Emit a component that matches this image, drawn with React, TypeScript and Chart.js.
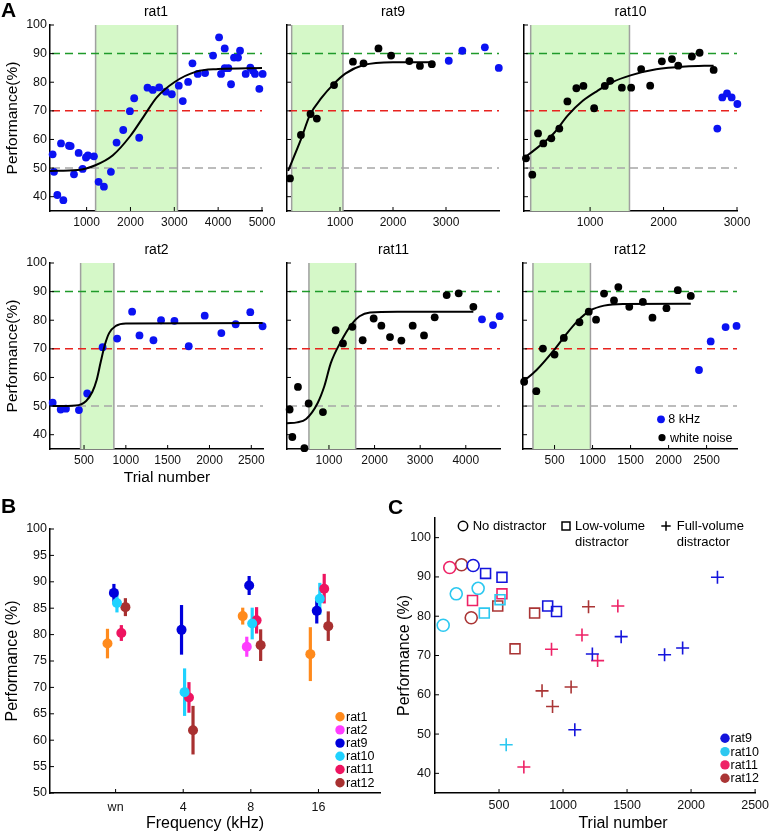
import React, { useEffect, useRef } from 'react';
import { Chart, registerables } from 'chart.js';

Chart.register(...registerables);

const FONT = '"Liberation Sans", Arial, Helvetica, sans-serif';
const BLUE = '#0b12f2';
const BLACK = '#000000';

// ================= Panel A data =================
const A_Y_TICKS = [40, 50, 60, 70, 80, 90, 100];
const A_REF_LEVELS = [50, 70, 90];
const A_REF_COLORS = ['#a6a6a6', '#e8231f', '#1f9a2a'];

// rat1 (8 kHz only)
const rat1BlueX = [225, 256, 332, 416, 469, 598, 636, 712, 818, 909, 985, 1030, 1167, 1273, 1395, 1554, 1683, 1835, 1987, 2085, 2199, 2389, 2510, 2655, 2806, 2943, 3102, 3193, 3315, 3414, 3535, 3702, 3884, 4021, 4066, 4150, 4150, 4233, 4294, 4362, 4453, 4499, 4628, 4734, 4795, 4840, 4939, 5015];
const rat1BlueY = [54.8, 48.7, 40.6, 58.6, 38.8, 57.8, 57.7, 47.8, 55.3, 49.7, 53.7, 54.4, 54.1, 45.2, 43.5, 48.7, 58.9, 63.3, 69.9, 74.4, 60.6, 78.1, 77.3, 78.2, 76.7, 75.8, 78.8, 73.4, 80.1, 86.6, 82.9, 83.2, 89.3, 95.7, 82.9, 91.8, 84.9, 84.9, 79.3, 88.6, 88.6, 91.0, 82.9, 85.1, 84.0, 82.9, 77.7, 82.9];
const rat1FitX = [165, 800, 1200, 1600, 2000, 2300, 2600, 3000, 3500, 4000, 5000];
const rat1FitY = [49, 49.3, 51, 54.5, 61.3, 68, 74.7, 80, 83.7, 84.6, 85];
const rat1Band = [1205, 3072];
const rat1XTicks = [1000, 2000, 3000, 4000, 5000];

// rat9
const rat9BlackX = [56, 263, 444, 563, 888, 1244, 1444, 1726, 1964, 2308, 2508, 2733];
const rat9BlackY = [46.4, 61.6, 68.9, 67.3, 79.0, 87.2, 86.6, 91.8, 89.3, 87.4, 85.7, 86.3];
const rat9BlueX = [3052, 3308, 3733, 3996];
const rat9BlueY = [87.5, 91.0, 92.2, 85.0];
const rat9FitX = [20, 263, 431, 650, 888, 1100, 1444, 2000, 2733];
const rat9FitY = [49, 60, 68.5, 74.5, 79.5, 83, 86, 87, 87];
const rat9Band = [88, 1056];
const rat9XTicks = [1000, 2000, 3000];

// rat10
const rat10BlackX = [127, 213, 291, 363, 472, 581, 691, 813, 909, 1055, 1200, 1273, 1432, 1559, 1695, 1818, 1977, 2114, 2200, 2386, 2491, 2682];
const rat10BlackY = [53.4, 47.7, 62.1, 58.6, 60.4, 63.8, 73.3, 77.9, 78.7, 70.9, 78.7, 80.5, 78.1, 78.1, 84.6, 78.8, 87.3, 88.1, 85.8, 89.0, 90.3, 84.3];
const rat10BlueX = [2732, 2800, 2864, 2927, 3005];
const rat10BlueY = [63.8, 74.7, 76.1, 74.7, 72.4];
const rat10FitX = [100, 300, 500, 700, 900, 1100, 1300, 1550, 1900, 2300, 2682];
const rat10FitY = [53.5, 57.5, 62, 68.5, 73.5, 77, 80, 82.4, 84.5, 85.5, 85.8];
const rat10Band = [191, 1536];
const rat10XTicks = [1000, 2000, 3000];

// rat2 (8 kHz only)
const rat2BlueX = [125, 221, 284, 439, 538, 722, 896, 1075, 1163, 1330, 1421, 1581, 1752, 1943, 2142, 2313, 2488, 2635];
const rat2BlueY = [51.2, 48.8, 49.1, 48.6, 54.4, 70.6, 73.6, 83.0, 74.7, 73.0, 80.0, 79.8, 70.9, 81.6, 75.5, 78.6, 82.8, 77.9];
const rat2FitX = [125, 400, 525, 600, 650, 700, 750, 800, 880, 1000, 2635];
const rat2FitY = [50, 50.2, 51.8, 55, 59, 65.5, 71.5, 75.5, 78, 78.9, 79];
const rat2Band = [459, 857];
const rat2XTicks = [500, 1000, 1500, 2000, 2500];

// rat11
const rat11BlackX = [138, 197, 320, 461, 555, 868, 1147, 1307, 1513, 1739, 1980, 2149, 2338, 2588, 2836, 3084, 3318, 3581, 3844, 4166];
const rat11BlackY = [48.8, 39.2, 56.7, 35.3, 50.9, 47.9, 76.5, 71.9, 77.7, 73.0, 80.6, 78.1, 74.1, 72.9, 78.1, 74.7, 81.0, 88.8, 89.4, 84.7];
const rat11BlueX = [4355, 4597, 4743];
const rat11BlueY = [80.3, 78.3, 81.4];
const rat11FitX = [80, 300, 500, 750, 900, 1040, 1260, 1490, 1670, 1900, 2500, 4166];
const rat11FitY = [44, 44.3, 45.5, 51, 57, 65, 72.5, 78.5, 81.4, 82.7, 83, 83];
const rat11Band = [561, 1586];
const rat11XTicks = [1000, 2000, 3000, 4000];

// rat12
const rat12BlackX = [100, 260, 347, 500, 622, 828, 950, 1046, 1151, 1282, 1339, 1483, 1662, 1788, 1972, 2121, 2292];
const rat12BlackY = [58.5, 55.2, 70.1, 68.0, 73.8, 79.3, 83.0, 80.2, 89.3, 86.9, 91.6, 84.7, 86.4, 80.9, 84.2, 90.5, 88.5];
const rat12BlueX = [2400, 2554, 2750, 2894];
const rat12BlueY = [62.6, 72.6, 77.6, 78.0];
const rat12FitX = [85, 260, 500, 650, 802, 977, 1151, 1400, 2292];
const rat12FitY = [58.5, 62.5, 69.8, 75, 79.7, 83.5, 85.1, 85.7, 85.8];
const rat12Band = [216, 972];
const rat12XTicks = [500, 1000, 1500, 2000, 2500];

// ================= Panel B data =================
const FREQ_LABELS = ['wn', '4', '8', '16'];
const B_Y_TICKS = [50, 55, 60, 65, 70, 75, 80, 85, 90, 95, 100];
const B_RATS = ['rat1', 'rat2', 'rat9', 'rat10', 'rat11', 'rat12'];
const B_COLORS = ['#ff8a1c', '#ff3cff', '#0000dc', '#1ed2ff', '#ee1460', '#a83030'];
const B_OFFSETS = [-0.12, -0.06, -0.025, 0.02, 0.085, 0.145];
const rat1Means = [78.3, null, 83.5, 76.3];
const rat1Errs = [2.8, null, 1.6, 5.1];
const rat2Means = [null, null, 77.7, null];
const rat2Errs = [null, null, 1.9, null];
const rat9Means = [87.9, 80.9, 89.3, 84.5];
const rat9Errs = [1.7, 4.7, 1.8, 2.4];
const rat10Means = [86.0, 69.1, 82.1, 86.8];
const rat10Errs = [1.8, 4.5, 3.0, 3.0];
const rat11Means = [80.3, 68.1, 82.7, 88.7];
const rat11Errs = [1.5, 2.9, 2.5, 2.8];
const rat12Means = [85.2, 61.9, 78.0, 81.6];
const rat12Errs = [1.7, 4.6, 3.0, 2.8];
const B_MEANS = [rat1Means, rat2Means, rat9Means, rat10Means, rat11Means, rat12Means];
const B_ERRS = [rat1Errs, rat2Errs, rat9Errs, rat10Errs, rat11Errs, rat12Errs];

// ================= Panel C data =================
const C_X_TICKS = [500, 1000, 1500, 2000, 2500];
const C_Y_TICKS = [40, 50, 60, 70, 80, 90, 100];
const C_RATS = ['rat9', 'rat10', 'rat11', 'rat12'];
const C_COLORS = ['#1414dc', '#2cc8f0', '#ee2266', '#aa3535'];
const rat9NoX = [298];
const rat9NoY = [92.9];
const rat9LowX = [395, 523, 880, 949];
const rat9LowY = [90.9, 89.9, 82.6, 81.2];
const rat9FullX = [2206, 1454, 1229, 1793, 1934, 1092];
const rat9FullY = [89.9, 74.8, 70.4, 70.2, 71.9, 51.1];
const rat10NoX = [64, 166, 337];
const rat10NoY = [77.7, 85.7, 87.1];
const rat10LowX = [385, 508];
const rat10LowY = [80.8, 84.2];
const rat10FullX = [556];
const rat10FullY = [47.3];
const rat11NoX = [115];
const rat11NoY = [92.4];
const rat11LowX = [293, 523];
const rat11LowY = [84.0, 85.7];
const rat11FullX = [1428, 1148, 910, 1270, 694];
const rat11FullY = [82.6, 75.2, 71.6, 68.7, 41.6];
const rat12NoX = [207, 283];
const rat12NoY = [93.1, 79.6];
const rat12LowX = [490, 778, 625];
const rat12LowY = [82.6, 80.8, 71.7];
const rat12FullX = [1199, 1063, 836, 918];
const rat12FullY = [82.4, 62.0, 61.0, 57.0];
const C_NO = [[rat9NoX, rat9NoY], [rat10NoX, rat10NoY], [rat11NoX, rat11NoY], [rat12NoX, rat12NoY]];
const C_LOW = [[rat9LowX, rat9LowY], [rat10LowX, rat10LowY], [rat11LowX, rat11LowY], [rat12LowX, rat12LowY]];
const C_FULL = [[rat9FullX, rat9FullY], [rat10FullX, rat10FullY], [rat11FullX, rat11FullY], [rat12FullX, rat12FullY]];

// ================= helpers =================
type Box = { x: number; y: number; w: number; h: number };
type Area = { l: number; t: number; r: number; b: number };

const zip = (xs: number[], ys: number[]) => xs.map((x, i) => ({ x, y: ys[i] }));
const fixedTicks = (vals: number[]) => (scale: any) => {
  scale.ticks = vals.map((v) => ({ value: v }));
};
const TITLE_H = 14 * 1.2 + 8;

const inwardTicks = {
  id: 'inwardTicks',
  afterDraw(chart: any) {
    const { ctx, chartArea: a } = chart;
    const x = chart.scales.x;
    const y = chart.scales.y;
    ctx.save();
    ctx.strokeStyle = '#000';
    ctx.lineWidth = 1;
    ctx.beginPath();
    x.ticks.forEach((t: any) => {
      const px = x.getPixelForValue(t.value);
      ctx.moveTo(px, a.bottom);
      ctx.lineTo(px, a.bottom - 4);
    });
    y.ticks.forEach((t: any) => {
      const py = y.getPixelForValue(t.value);
      ctx.moveTo(a.left, py);
      ctx.lineTo(a.left + 4, py);
    });
    ctx.stroke();
    ctx.restore();
  },
};

function makeBands(band: number[]) {
  return {
    id: 'bands',
    beforeDatasetsDraw(chart: any) {
      const { ctx, chartArea: a } = chart;
      const x = chart.scales.x;
      const y = chart.scales.y;
      ctx.save();
      const x1 = x.getPixelForValue(band[0]);
      const x2 = x.getPixelForValue(band[1]);
      ctx.fillStyle = '#d5f8c8';
      ctx.fillRect(x1, a.top, x2 - x1, a.bottom - a.top);
      ctx.strokeStyle = '#a0a0a0';
      ctx.lineWidth = 1.5;
      ctx.beginPath();
      ctx.moveTo(x1, a.top);
      ctx.lineTo(x1, a.bottom);
      ctx.moveTo(x2, a.top);
      ctx.lineTo(x2, a.bottom);
      ctx.stroke();
      A_REF_LEVELS.forEach((lv, i) => {
        const py = y.getPixelForValue(lv);
        ctx.strokeStyle = A_REF_COLORS[i];
        ctx.lineWidth = 1.5;
        ctx.setLineDash([8, 5]);
        ctx.beginPath();
        ctx.moveTo(a.left + 2, py);
        ctx.lineTo(a.right, py);
        ctx.stroke();
      });
      ctx.restore();
    },
  };
}

function drawMarker(ctx: any, kind: string, cx: number, cy: number, r: number, color: string, lw: number) {
  ctx.save();
  ctx.strokeStyle = color;
  ctx.fillStyle = color;
  ctx.lineWidth = lw;
  ctx.beginPath();
  if (kind === 'dot') {
    ctx.arc(cx, cy, r, 0, Math.PI * 2);
    ctx.fill();
  } else if (kind === 'circle') {
    ctx.arc(cx, cy, r, 0, Math.PI * 2);
    ctx.stroke();
  } else if (kind === 'rect') {
    ctx.rect(cx - r, cy - r, 2 * r, 2 * r);
    ctx.stroke();
  } else if (kind === 'cross') {
    ctx.moveTo(cx - r, cy);
    ctx.lineTo(cx + r, cy);
    ctx.moveTo(cx, cy - r);
    ctx.lineTo(cx, cy + r);
    ctx.stroke();
  }
  ctx.restore();
}

type LegendItem = { kind?: string; color?: string; r?: number; mx?: number; y: number; tx: number; text: string };
function makeLegend(items: LegendItem[], fontSize: number) {
  return {
    id: 'customLegend',
    afterDraw(chart: any) {
      const { ctx, chartArea: a } = chart;
      ctx.save();
      items.forEach((it) => {
        if (it.kind) drawMarker(ctx, it.kind, a.left + (it.mx as number), a.top + it.y, it.r as number, it.color as string, 1.5);
        ctx.fillStyle = '#000';
        ctx.font = `${fontSize}px ${FONT}`;
        ctx.textAlign = 'left';
        ctx.textBaseline = 'middle';
        ctx.fillText(it.text, a.left + it.tx, a.top + it.y + 0.5);
      });
      ctx.restore();
    },
  };
}

function makeTexts(items: { text: string; x: number; y: number; size: number }[]) {
  return {
    id: 'freeText',
    afterDraw(chart: any) {
      const ctx = chart.ctx;
      ctx.save();
      items.forEach((t) => {
        ctx.font = `${t.size}px ${FONT}`;
        ctx.fillStyle = '#000';
        ctx.textAlign = 'center';
        ctx.textBaseline = 'middle';
        ctx.fillText(t.text, t.x, t.y);
      });
      ctx.restore();
    },
  };
}

function axis(o: {
  min: number; max: number; ticks: number[]; horizontal: boolean; size: number; show: boolean;
  pad: number; fontSize: number; cb?: (v: any) => string; title?: any;
}) {
  return {
    type: 'linear',
    min: o.min,
    max: o.max,
    afterBuildTicks: fixedTicks(o.ticks),
    ticks: {
      display: o.show,
      autoSkip: false,
      maxRotation: 0,
      minRotation: 0,
      padding: o.pad,
      color: '#111',
      font: { family: FONT, size: o.fontSize },
      callback: o.cb || ((v: any) => String(v)),
    },
    grid: { display: false, drawTicks: false },
    border: { display: true, color: '#000', width: 1.5 },
    title: o.title || { display: false },
    afterFit: (s: any) => {
      if (o.horizontal) s.height = o.size;
      else s.width = o.size;
    },
  };
}

const baseOptions = (padding: any) => ({
  responsive: false,
  animation: false,
  devicePixelRatio: 1,
  events: [],
  layout: { padding, autoPadding: false },
});

// ================= Panel A =================
type APanel = {
  title: string; box: Box; area: Area; xMin: number; xMax: number; xTicks: number[]; band: number[];
  black?: number[][]; blue?: number[][]; fit: number[][]; yLabels?: boolean; legend?: boolean;
  texts?: { text: string; x: number; y: number; size: number }[];
};

const A_PANELS: APanel[] = [
  { title: 'rat1', box: { x: 0, y: 0, w: 280, h: 232 }, area: { l: 50, t: 25, r: 262, b: 211 }, xMin: 165, xMax: 5000, xTicks: rat1XTicks, band: rat1Band, blue: [rat1BlueX, rat1BlueY], fit: [rat1FitX, rat1FitY], yLabels: true },
  { title: 'rat9', box: { x: 275, y: 0, w: 245, h: 232 }, area: { l: 287, t: 25, r: 499, b: 211 }, xMin: 0, xMax: 4000, xTicks: rat9XTicks, band: rat9Band, black: [rat9BlackX, rat9BlackY], blue: [rat9BlueX, rat9BlueY], fit: [rat9FitX, rat9FitY] },
  { title: 'rat10', box: { x: 512, y: 0, w: 262, h: 232 }, area: { l: 524, t: 25, r: 737, b: 211 }, xMin: 100, xMax: 3000, xTicks: rat10XTicks, band: rat10Band, black: [rat10BlackX, rat10BlackY], blue: [rat10BlueX, rat10BlueY], fit: [rat10FitX, rat10FitY] },
  { title: 'rat2', box: { x: 0, y: 238, w: 280, h: 252 }, area: { l: 50, t: 263, r: 263, b: 449 }, xMin: 93, xMax: 2640, xTicks: rat2XTicks, band: rat2Band, blue: [rat2BlueX, rat2BlueY], fit: [rat2FitX, rat2FitY], yLabels: true, texts: [{ text: 'Trial number', x: 167, y: 240, size: 15.5 }] },
  { title: 'rat11', box: { x: 275, y: 238, w: 245, h: 232 }, area: { l: 287, t: 263, r: 500, b: 449 }, xMin: 80, xMax: 4750, xTicks: rat11XTicks, band: rat11Band, black: [rat11BlackX, rat11BlackY], blue: [rat11BlueX, rat11BlueY], fit: [rat11FitX, rat11FitY] },
  { title: 'rat12', box: { x: 511, y: 238, w: 263, h: 232 }, area: { l: 523, t: 263, r: 737, b: 449 }, xMin: 85, xMax: 2900, xTicks: rat12XTicks, band: rat12Band, black: [rat12BlackX, rat12BlackY], blue: [rat12BlueX, rat12BlueY], fit: [rat12FitX, rat12FitY], legend: true },
];

function makeA(p: APanel) {
  const yw = p.area.l - p.box.x;
  const xh = p.box.y + p.box.h - p.area.b;
  const padding = { left: 0, top: p.area.t - p.box.y - TITLE_H, right: p.box.x + p.box.w - p.area.r, bottom: 0 };
  const datasets: any[] = [
    { data: zip(p.fit[0], p.fit[1]), showLine: true, borderColor: '#000', borderWidth: 2, pointRadius: 0, cubicInterpolationMode: 'monotone', clip: false, order: 0 },
  ];
  if (p.black) datasets.push({ data: zip(p.black[0], p.black[1]), pointRadius: 3.9, backgroundColor: BLACK, borderWidth: 0, clip: false, order: 1 });
  if (p.blue) datasets.push({ data: zip(p.blue[0], p.blue[1]), pointRadius: 3.9, backgroundColor: BLUE, borderWidth: 0, clip: false, order: 1 });
  const plugins: any[] = [makeBands(p.band), inwardTicks];
  if (p.legend) {
    plugins.push(
      makeLegend(
        [
          { kind: 'dot', color: BLUE, r: 3.9, mx: 138, y: 156.3, tx: 145.3, text: '8 kHz' },
          { kind: 'dot', color: BLACK, r: 3.6, mx: 139, y: 174.7, tx: 147, text: 'white noise' },
        ],
        12.5,
      ),
    );
  }
  if (p.texts) plugins.push(makeTexts(p.texts));
  return {
    type: 'scatter',
    data: { datasets },
    options: {
      ...baseOptions(padding),
      plugins: {
        legend: { display: false },
        tooltip: { enabled: false },
        title: { display: true, text: p.title, fullSize: false, color: '#000', font: { family: FONT, size: 14, weight: 'normal' }, padding: { top: 4, bottom: 4 } },
      },
      scales: {
        x: axis({ min: p.xMin, max: p.xMax, ticks: p.xTicks, horizontal: true, size: xh, show: true, pad: 4, fontSize: 12 }),
        y: axis({
          min: 35, max: 100, ticks: A_Y_TICKS, horizontal: false, size: yw, show: !!p.yLabels, pad: 3, fontSize: 12.5,
          title: p.yLabels ? { display: true, text: 'Performance(%)', color: '#000', font: { family: FONT, size: 15.5 }, padding: { top: 3.5, bottom: 0 } } : undefined,
        }),
      },
    },
    plugins,
  };
}

// ================= Panel B =================
const B_BOX: Box = { x: 0, y: 515, w: 395, h: 319 };
const B_AREA: Area = { l: 50, t: 529, r: 380, b: 793 };

const errorBars = {
  id: 'errorBars',
  beforeDatasetsDraw(chart: any) {
    const { ctx } = chart;
    const x = chart.scales.x;
    const y = chart.scales.y;
    ctx.save();
    ctx.lineWidth = 3.2;
    chart.data.datasets.forEach((ds: any) => {
      ctx.strokeStyle = ds.borderColor;
      ds.data.forEach((p: any) => {
        const px = x.getPixelForValue(p.x);
        ctx.beginPath();
        ctx.moveTo(px, y.getPixelForValue(p.y - p.e));
        ctx.lineTo(px, y.getPixelForValue(p.y + p.e));
        ctx.stroke();
      });
    });
    ctx.restore();
  },
};

function makeB() {
  const padding = { left: 0, top: B_AREA.t - B_BOX.y, right: B_BOX.x + B_BOX.w - B_AREA.r, bottom: 0 };
  const datasets = B_RATS.map((name, r) => {
    const data: any[] = [];
    B_MEANS[r].forEach((m, i) => {
      if (m == null) return;
      data.push({ x: i + 1 + B_OFFSETS[r], y: m, e: B_ERRS[r][i] });
    });
    return { label: name, data, backgroundColor: B_COLORS[r], borderColor: B_COLORS[r], pointRadius: 5, borderWidth: 0, clip: false };
  });
  const legendItems: LegendItem[] = B_RATS.map((name, r) => ({
    kind: 'dot', color: B_COLORS[r], r: 4.7, mx: 290, y: 187.7 + r * 13.2, tx: 296, text: name,
  }));
  return {
    type: 'scatter',
    data: { datasets },
    options: {
      ...baseOptions(padding),
      plugins: { legend: { display: false }, tooltip: { enabled: false }, title: { display: false } },
      scales: {
        x: axis({
          min: 0.03, max: 4.91, ticks: [1, 2, 3, 4], horizontal: true, size: B_BOX.y + B_BOX.h - B_AREA.b, show: true, pad: 7, fontSize: 12.5,
          cb: (v: any) => FREQ_LABELS[Math.round(v) - 1] ?? '',
        }),
        y: axis({
          min: 50, max: 100, ticks: B_Y_TICKS, horizontal: false, size: B_AREA.l - B_BOX.x, show: true, pad: 3, fontSize: 12.5,
          title: { display: true, text: 'Performance (%)', color: '#000', font: { family: FONT, size: 16 }, padding: { top: 3.4, bottom: 0 } },
        }),
      },
    },
    plugins: [errorBars, inwardTicks, makeLegend(legendItems, 12.5), makeTexts([{ text: 'Frequency (kHz)', x: 205 - B_BOX.x, y: 824 - B_BOX.y, size: 16 }])],
  };
}

// ================= Panel C =================
const C_BOX: Box = { x: 390, y: 505, w: 384, h: 329 };
const C_AREA: Area = { l: 435, t: 518, r: 763, b: 793 };

function makeC() {
  const padding = { left: 0, top: C_AREA.t - C_BOX.y, right: C_BOX.x + C_BOX.w - C_AREA.r, bottom: 0 };
  const datasets: any[] = [];
  const groups: [number[][][], string, number][] = [
    [C_NO, 'circle', 6],
    [C_LOW, 'rect', 7],
    [C_FULL, 'cross', 6.5],
  ];
  groups.forEach(([sets, style, radius]) => {
    sets.forEach((xy, r) => {
      datasets.push({
        label: `${C_RATS[r]} ${style}`,
        data: zip(xy[0], xy[1]),
        pointStyle: style,
        pointRadius: radius,
        borderColor: C_COLORS[r],
        backgroundColor: 'rgba(0,0,0,0)',
        borderWidth: 1.6,
        clip: false,
      });
    });
  });
  const legendItems: LegendItem[] = [
    { kind: 'circle', color: '#000', r: 4.7, mx: 28, y: 8, tx: 37.7, text: 'No distractor' },
    { kind: 'rect', color: '#000', r: 4, mx: 131, y: 8, tx: 140, text: 'Low-volume' },
    { y: 23.7, tx: 140, text: 'distractor' },
    { kind: 'cross', color: '#000', r: 4.7, mx: 231, y: 8, tx: 241.7, text: 'Full-volume' },
    { y: 23.7, tx: 241.7, text: 'distractor' },
  ];
  const ratLegend: LegendItem[] = C_RATS.map((name, r) => ({
    kind: 'dot', color: C_COLORS[r], r: 4.7, mx: 290, y: 220.3 + r * 13.3, tx: 295.5, text: name,
  }));
  return {
    type: 'scatter',
    data: { datasets },
    options: {
      ...baseOptions(padding),
      plugins: { legend: { display: false }, tooltip: { enabled: false }, title: { display: false } },
      scales: {
        x: axis({ min: 0, max: 2500, ticks: C_X_TICKS, horizontal: true, size: C_BOX.y + C_BOX.h - C_AREA.b, show: true, pad: 5, fontSize: 12.5 }),
        y: axis({
          min: 35, max: 105, ticks: C_Y_TICKS, horizontal: false, size: C_AREA.l - C_BOX.x, show: true, pad: 4, fontSize: 12.5,
          title: { display: true, text: 'Performance (%)', color: '#000', font: { family: FONT, size: 16 }, padding: { top: 5.4, bottom: 0 } },
        }),
      },
    },
    plugins: [inwardTicks, makeLegend(legendItems, 13), makeLegend(ratLegend, 12.5), makeTexts([{ text: 'Trial number', x: 623 - C_BOX.x, y: 824 - C_BOX.y, size: 16 }])],
  };
}

// ================= React =================
function ChartBox({ box, make }: { box: Box; make: () => any }) {
  const ref = useRef<HTMLCanvasElement>(null);
  useEffect(() => {
    const chart = new Chart(ref.current as HTMLCanvasElement, make());
    return () => chart.destroy();
  }, []);
  return (
    <canvas
      ref={ref}
      width={box.w}
      height={box.h}
      style={{ position: 'absolute', left: box.x, top: box.y, width: box.w, height: box.h }}
    />
  );
}

const letter = (left: number, top: number): React.CSSProperties => ({
  position: 'absolute', left, top, fontFamily: FONT, fontWeight: 'bold', fontSize: 21, lineHeight: '21px', color: '#000',
});

export default function App() {
  return (
    <div style={{ position: 'absolute', left: 0, top: 0, width: 774, height: 834, background: '#fff', overflow: 'hidden' }}>
      {A_PANELS.map((p) => (
        <ChartBox key={p.title} box={p.box} make={() => makeA(p)} />
      ))}
      <ChartBox box={B_BOX} make={makeB} />
      <ChartBox box={C_BOX} make={makeC} />
      <div style={letter(1, -1)}>A</div>
      <div style={letter(1, 495)}>B</div>
      <div style={letter(388, 496)}>C</div>
    </div>
  );
}
